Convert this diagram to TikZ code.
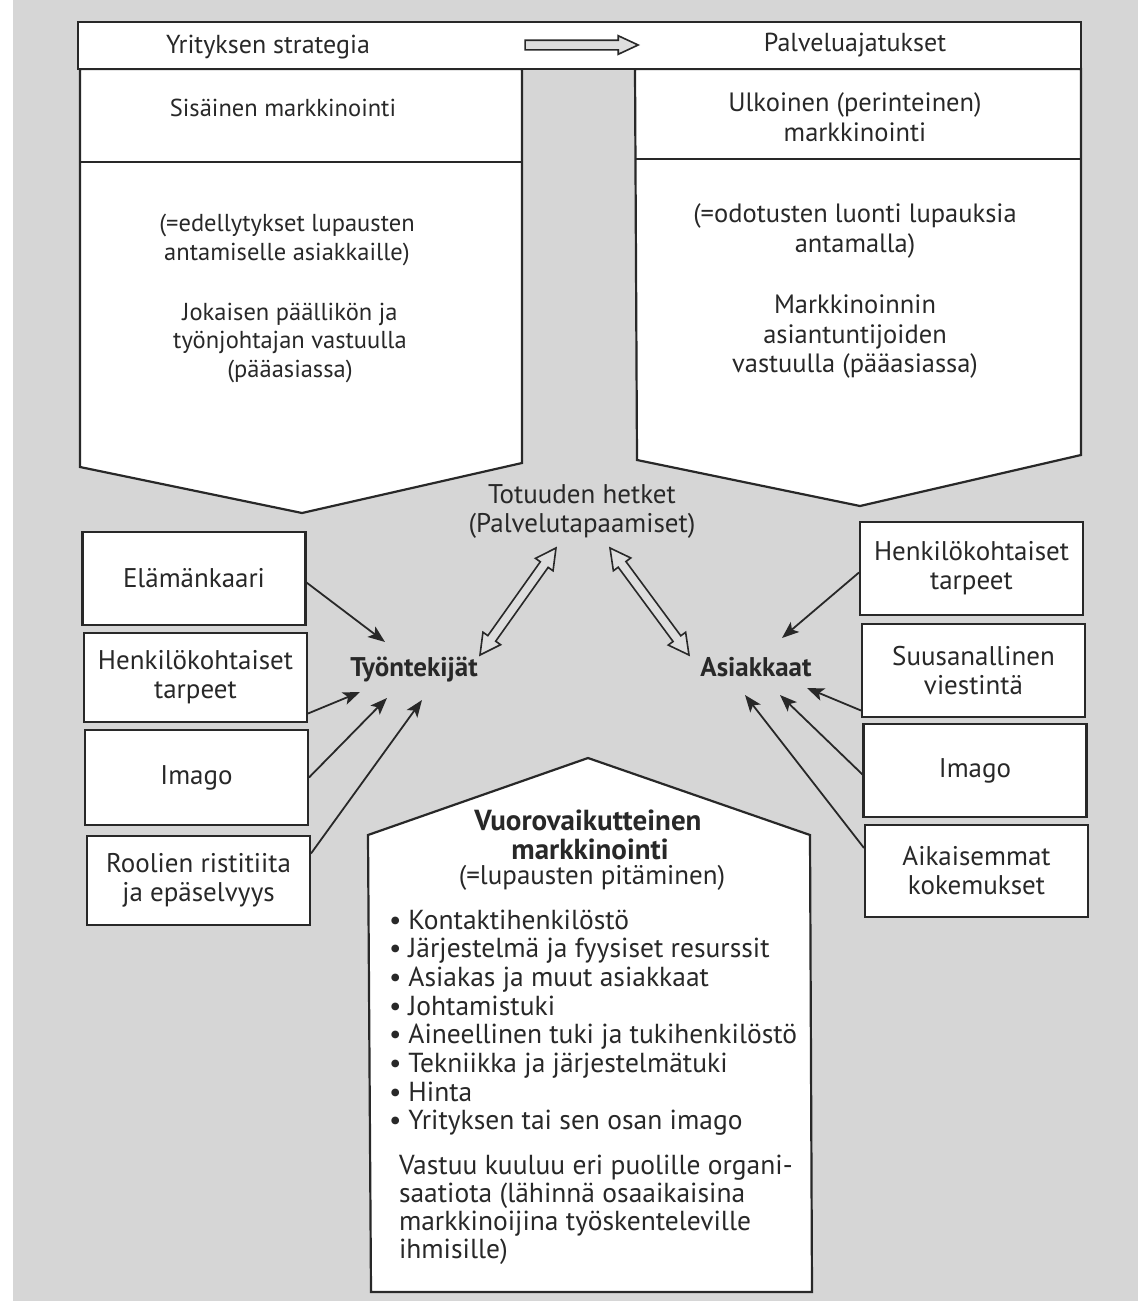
\documentclass[tikz,border=0pt]{standalone}
\usepackage{fontspec}
\setmainfont{PT Sans}
\usetikzlibrary{shapes.arrows,arrows.meta,calc}
\definecolor{pagebg}{RGB}{214,214,214}
\definecolor{arrowfill}{RGB}{222,222,222}
\definecolor{ink}{RGB}{40,40,40}
\begin{document}
\begin{tikzpicture}[x=1pt,y=-1pt,
  every node/.style={font=\fontsize{27}{29}\selectfont, text=ink, align=center, inner sep=0pt, outer sep=0pt},
  leftfont/.style={font=\fontsize{24.5}{28.5}\selectfont},
  topfont/.style={font=\fontsize{26}{29}\selectfont},
  rightfont/.style={font=\fontsize{26.5}{29.5}\selectfont},
  botfont/.style={font=\fontsize{27.5}{29}\selectfont},
  frame/.style={draw=ink, line width=2.2pt, fill=white, line join=miter},
  ibox/.style={draw=ink, line width=2.6pt, fill=white, minimum width=223pt, minimum height=92pt},
  thinarrow/.style={draw=ink, line width=1.8pt, -{Stealth[length=17pt,width=13pt,inset=4pt]}},
  hollowdbl/.style={double arrow, draw=ink, line width=1.6pt, fill=arrowfill, inner sep=0pt, inner ysep=4pt,
     double arrow head extend=6pt, double arrow tip angle=56, outer sep=0pt},
  hollowone/.style={single arrow, draw=ink, line width=1.6pt, fill=arrowfill, inner sep=0pt, inner ysep=4pt,
     single arrow head extend=4.5pt, single arrow tip angle=50, outer sep=0pt},
  bold/.style={font=\fontsize{27}{29}\selectfont\bfseries}
]
\useasboundingbox (0,0) rectangle (1138,1301);
\fill[pagebg] (0,0) rectangle (1138,1301);
\fill[white] (0,0) rectangle (13,1301);

% upper columns
\draw[frame] (80,69) -- (522,69) -- (522,463) -- (302,513) -- (80,467) -- cycle;
\draw[ink, line width=2.2pt] (80,162) -- (522,162);
\draw[frame] (635,69) -- (1081,69) -- (1081,455) -- (860,506) -- (637,460) -- cycle;
\draw[ink, line width=2.2pt] (635,159) -- (1081,159);
\draw[frame] (78,22) rectangle (1081,69);

% texts in upper part
\node[topfont] (yrit) at (268,47) {Yrityksen strategia};
\node[topfont] (palv) at (855,45) {Palveluajatukset};
\node[leftfont] (sisa) at (283,108) {Sisäinen markkinointi};
\node[rightfont] (ulko) at (855,117) {Ulkoinen (perinteinen)\\markkinointi};
\node[leftfont] (edel) at (287,240) {(=edellytykset lupausten\\antamiselle asiakkaille)};
\node[leftfont] (joka) at (290,343) {Jokaisen päällikön ja\\työnjohtajan vastuulla\\(pääasiassa)};
\node[rightfont] (odot) at (855,231) {(=odotusten luonti lupauksia\\antamalla)};
\node[rightfont] (mark) at (855,337) {Markkinoinnin\\asiantuntijoiden\\vastuulla (pääasiassa)};

% top hollow arrow
\coordinate (ta1) at (520,45);
\coordinate (ta2) at (633,45);
\path let \p1=(ta1), \p2=(ta2), \n1={veclen(\x2-\x1,\y2-\y1)} in
  node[hollowone, minimum height=\n1] (toparrow) at ($(ta1)!0.5!(ta2)$) {};

% centre
\node (tot) at (582,512) {Totuuden hetket\\(Palvelutapaamiset)};
\node[bold] (tyon) at (414,670) {Työntekijät};
\node[bold] (asia) at (756,667) {Asiakkaat};

% left boxes
\node[ibox, minimum height=93pt] (elam) at (194,578.5) {Elämänkaari};
\node[ibox, minimum height=89pt] (hk1) at (195.5,677.5) {Henkilökohtaiset\\tarpeet};
\node[ibox, minimum height=95pt] (ima1) at (196.5,777.5) {Imago};
\node[ibox, minimum height=89pt] (rool) at (198.5,880.5) {Roolien ristitiita\\ja epäselvyys};

% right boxes
\node[ibox, minimum height=93pt] (hk2) at (971.5,568.5) {Henkilökohtaiset\\tarpeet};
\node[ibox, minimum height=93pt] (suus) at (973.5,670.5) {Suusanallinen\\viestintä};
\node[ibox, minimum height=93pt] (ima2) at (975,770.5) {Imago};
\node[ibox, minimum height=92pt] (aika) at (976.5,871) {Aikaisemmat\\kokemukset};

% arrow tips
\coordinate (tl1) at (385,642);
\coordinate (tl2) at (360,692);
\coordinate (tl3) at (387,698);
\coordinate (tl4) at (422,700);
\coordinate (tr1) at (782,638);
\coordinate (tr2) at (807,688);
\coordinate (tr3) at (780,695);
\coordinate (tr4) at (745,695);

\draw[thinarrow] ($(elam.east)+(1,4)$) -- (tl1);
\draw[thinarrow] ($(hk1.east)+(1,36)$) -- (tl2);
\draw[thinarrow] ($(ima1.east)+(1,0)$) -- (tl3);
\draw[thinarrow] ($(rool.east)+(1,-27)$) -- (tl4);
\draw[thinarrow] ($(hk2.west)+(-1,4)$) -- (tr1);
\draw[thinarrow] ($(suus.west)+(-1,40)$) -- (tr2);
\draw[thinarrow] ($(ima2.west)+(-1,4)$) -- (tr3);
\draw[thinarrow] ($(aika.west)+(-1,-23)$) -- (tr4);

% double hollow arrows
\coordinate (d1a) at (556,548);
\coordinate (d1b) at (480,655);
\coordinate (d2a) at (610,548);
\coordinate (d2b) at (689,655);
\path let \p1=(d1a), \p2=(d1b), \n1={veclen(\x2-\x1,\y2-\y1)}, \n2={atan2(\y2-\y1,\x2-\x1)} in
  node[hollowdbl, minimum height=\n1, rotate=\n2] (dbl1) at ($(d1a)!0.5!(d1b)$) {};
\path let \p1=(d2a), \p2=(d2b), \n1={veclen(\x2-\x1,\y2-\y1)}, \n2={atan2(\y2-\y1,\x2-\x1)} in
  node[hollowdbl, minimum height=\n1, rotate=\n2] (dbl2) at ($(d2a)!0.5!(d2b)$) {};

% bottom pentagon
\draw[frame] (368,835) -- (588,758) -- (810,835) -- (812,1292) -- (371,1292) -- cycle;
\node[bold, font=\fontsize{29}{29}\selectfont\bfseries] (vuoro1) at (588,820) {Vuorovaikutteinen};
\node[bold, font=\fontsize{29}{29}\selectfont\bfseries] (vuoro2) at (590,849) {markkinointi};
\node (vuoro3) at (592,878) {(=lupausten pitäminen)};
\foreach \t [count=\i] in {Kontaktihenkilöstö, Järjestelmä ja fyysiset resurssit, Asiakas ja muut asiakkaat, Johtamistuki, Aineellinen tuki ja tukihenkilöstö, Tekniikka ja järjestelmätuki, Hinta, Yrityksen tai sen osan imago}
  \node[botfont, anchor=base west] (bul\i) at (389,{929+28.7*(\i-1)}) {•\hspace{7pt}\t};
\foreach \t [count=\i] in {Vastuu kuuluu eri puolille organi-, saatiota (lähinnä osaaikaisina, markkinoijina työskenteleville, ihmisille)}
  \node[botfont, anchor=base west] (vas\i) at (399,{1174+28.2*(\i-1)}) {\t};
\end{tikzpicture}
\end{document}
